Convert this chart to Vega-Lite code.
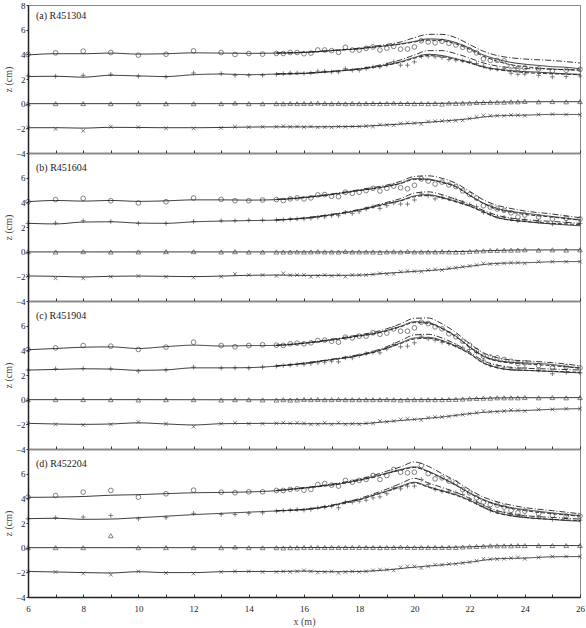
{
"$schema": "https://vega.github.io/schema/vega-lite/v6.json",
"padding": {"left": 2, "top": 0, "right": 0, "bottom": 0},
"spacing": 0,
"bounds": "flush",
"config": {
 "font": "Liberation Serif",
 "view": {"stroke": "#888", "strokeWidth": 1},
 "title": {"font": "Liberation Serif", "fontSize": 10, "fontWeight": "normal", "color": "#222", "anchor": "start", "frame": "group", "offset": -20, "dx": 8},
 "axis": {"grid": false, "labelFont": "Liberation Serif", "labelFontSize": 9, "labelColor": "#222", "titleFont": "Liberation Serif", "titleFontSize": 10, "titleFontWeight": "normal", "titleColor": "#444", "domainColor": "#222", "tickColor": "#333", "domainWidth": 1.5, "tickWidth": 1, "labelOverlap": false, "labelFlush": false}
},
"datasets": {
"pts": [
{"p":"a","m":"o","x":6,"z":3.99},{"p":"a","m":"o","x":7,"z":4.12},{"p":"a","m":"o","x":8,"z":4.26},{"p":"a","m":"o","x":9,"z":4.15},{"p":"a","m":"o","x":10,"z":3.93},{"p":"a","m":"o","x":11,"z":4.01},{"p":"a","m":"o","x":12,"z":4.28},{"p":"a","m":"o","x":13,"z":4.15},{"p":"a","m":"o","x":13.5,"z":3.99},{"p":"a","m":"o","x":14,"z":4.07},{"p":"a","m":"o","x":14.5,"z":4.02},{"p":"a","m":"o","x":15,"z":4.07},{"p":"a","m":"o","x":15.25,"z":4.07},{"p":"a","m":"o","x":15.5,"z":4.15},{"p":"a","m":"o","x":15.75,"z":4.15},{"p":"a","m":"o","x":16,"z":4.05},{"p":"a","m":"o","x":16.25,"z":4.1},{"p":"a","m":"o","x":16.5,"z":4.35},{"p":"a","m":"o","x":16.75,"z":4.35},{"p":"a","m":"o","x":17,"z":4.3},{"p":"a","m":"o","x":17.25,"z":4.16},{"p":"a","m":"o","x":17.5,"z":4.57},{"p":"a","m":"o","x":17.75,"z":4.35},{"p":"a","m":"o","x":18,"z":4.35},{"p":"a","m":"o","x":18.25,"z":4.49},{"p":"a","m":"o","x":18.5,"z":4.6},{"p":"a","m":"o","x":18.75,"z":4.35},{"p":"a","m":"o","x":19,"z":4.5},{"p":"a","m":"o","x":19.25,"z":4.64},{"p":"a","m":"o","x":19.5,"z":4.42},{"p":"a","m":"o","x":19.75,"z":4.43},{"p":"a","m":"o","x":20,"z":4.6},{"p":"a","m":"o","x":20.25,"z":5.1},{"p":"a","m":"o","x":20.5,"z":5.0},{"p":"a","m":"o","x":20.75,"z":4.93},{"p":"a","m":"o","x":21,"z":5.06},{"p":"a","m":"o","x":21.25,"z":4.89},{"p":"a","m":"o","x":21.5,"z":4.76},{"p":"a","m":"o","x":21.75,"z":4.57},{"p":"a","m":"o","x":22,"z":4.35},{"p":"a","m":"o","x":22.25,"z":4.12},{"p":"a","m":"o","x":22.5,"z":3.63},{"p":"a","m":"o","x":22.75,"z":3.51},{"p":"a","m":"o","x":23,"z":3.51},{"p":"a","m":"o","x":23.25,"z":3.47},{"p":"a","m":"o","x":23.5,"z":2.99},{"p":"a","m":"o","x":23.75,"z":2.86},{"p":"a","m":"o","x":24,"z":2.91},{"p":"a","m":"o","x":24.5,"z":2.82},{"p":"a","m":"o","x":25,"z":2.65},{"p":"a","m":"o","x":25.5,"z":2.71},{"p":"a","m":"o","x":26,"z":2.78},
{"p":"a","m":"p","x":6,"z":2.25},{"p":"a","m":"p","x":7,"z":2.22},{"p":"a","m":"p","x":8,"z":2.3},{"p":"a","m":"p","x":9,"z":2.38},{"p":"a","m":"p","x":10,"z":2.22},{"p":"a","m":"p","x":11,"z":2.17},{"p":"a","m":"p","x":12,"z":2.49},{"p":"a","m":"p","x":13,"z":2.44},{"p":"a","m":"p","x":13.5,"z":2.3},{"p":"a","m":"p","x":14,"z":2.3},{"p":"a","m":"p","x":14.5,"z":2.3},{"p":"a","m":"p","x":15,"z":2.38},{"p":"a","m":"p","x":15.25,"z":2.44},{"p":"a","m":"p","x":15.5,"z":2.49},{"p":"a","m":"p","x":15.75,"z":2.49},{"p":"a","m":"p","x":16,"z":2.44},{"p":"a","m":"p","x":16.25,"z":2.49},{"p":"a","m":"p","x":16.5,"z":2.63},{"p":"a","m":"p","x":16.75,"z":2.63},{"p":"a","m":"p","x":17,"z":2.57},{"p":"a","m":"p","x":17.25,"z":2.57},{"p":"a","m":"p","x":17.5,"z":2.84},{"p":"a","m":"p","x":17.75,"z":2.71},{"p":"a","m":"p","x":18,"z":2.71},{"p":"a","m":"p","x":18.25,"z":2.84},{"p":"a","m":"p","x":18.5,"z":2.98},{"p":"a","m":"p","x":18.75,"z":2.98},{"p":"a","m":"p","x":19,"z":3.15},{"p":"a","m":"p","x":19.25,"z":3.39},{"p":"a","m":"p","x":19.5,"z":3.12},{"p":"a","m":"p","x":19.75,"z":3.12},{"p":"a","m":"p","x":20,"z":3.39},{"p":"a","m":"p","x":20.25,"z":3.82},{"p":"a","m":"p","x":20.5,"z":3.85},{"p":"a","m":"p","x":20.75,"z":3.8},{"p":"a","m":"p","x":21,"z":3.74},{"p":"a","m":"p","x":21.25,"z":3.58},{"p":"a","m":"p","x":21.5,"z":3.53},{"p":"a","m":"p","x":21.75,"z":3.47},{"p":"a","m":"p","x":22,"z":3.39},{"p":"a","m":"p","x":22.25,"z":3.26},{"p":"a","m":"p","x":22.5,"z":3.04},{"p":"a","m":"p","x":22.75,"z":2.84},{"p":"a","m":"p","x":23,"z":2.79},{"p":"a","m":"p","x":23.25,"z":2.84},{"p":"a","m":"p","x":23.5,"z":2.47},{"p":"a","m":"p","x":23.75,"z":2.38},{"p":"a","m":"p","x":24,"z":2.4},{"p":"a","m":"p","x":24.5,"z":2.3},{"p":"a","m":"p","x":25,"z":2.17},{"p":"a","m":"p","x":25.5,"z":2.2},{"p":"a","m":"p","x":26,"z":2.25},
{"p":"a","m":"t","x":6,"z":0},{"p":"a","m":"t","x":7,"z":0},{"p":"a","m":"t","x":8,"z":0},{"p":"a","m":"t","x":9,"z":0},{"p":"a","m":"t","x":10,"z":0},{"p":"a","m":"t","x":11,"z":0},{"p":"a","m":"t","x":12,"z":0},{"p":"a","m":"t","x":13,"z":0},{"p":"a","m":"t","x":13.5,"z":0.05},{"p":"a","m":"t","x":14,"z":0},{"p":"a","m":"t","x":14.5,"z":0},{"p":"a","m":"t","x":15,"z":0},{"p":"a","m":"t","x":15.25,"z":0},{"p":"a","m":"t","x":15.5,"z":0.02},{"p":"a","m":"t","x":15.75,"z":0},{"p":"a","m":"t","x":16,"z":0.02},{"p":"a","m":"t","x":16.25,"z":0.02},{"p":"a","m":"t","x":16.5,"z":0.05},{"p":"a","m":"t","x":16.75,"z":0.02},{"p":"a","m":"t","x":17,"z":0},{"p":"a","m":"t","x":17.25,"z":0.02},{"p":"a","m":"t","x":17.5,"z":0},{"p":"a","m":"t","x":17.75,"z":0.02},{"p":"a","m":"t","x":18,"z":0},{"p":"a","m":"t","x":18.25,"z":0.02},{"p":"a","m":"t","x":18.5,"z":0.02},{"p":"a","m":"t","x":18.75,"z":0},{"p":"a","m":"t","x":19,"z":0.02},{"p":"a","m":"t","x":19.25,"z":0.05},{"p":"a","m":"t","x":19.5,"z":0.02},{"p":"a","m":"t","x":19.75,"z":0.02},{"p":"a","m":"t","x":20,"z":0},{"p":"a","m":"t","x":20.25,"z":0.02},{"p":"a","m":"t","x":20.5,"z":0},{"p":"a","m":"t","x":20.75,"z":0.02},{"p":"a","m":"t","x":21,"z":-0.03},{"p":"a","m":"t","x":21.25,"z":0.05},{"p":"a","m":"t","x":21.5,"z":0.02},{"p":"a","m":"t","x":21.75,"z":0.05},{"p":"a","m":"t","x":22,"z":0.05},{"p":"a","m":"t","x":22.25,"z":0.1},{"p":"a","m":"t","x":22.5,"z":0.1},{"p":"a","m":"t","x":22.75,"z":0.12},{"p":"a","m":"t","x":23,"z":0.12},{"p":"a","m":"t","x":23.25,"z":0.12},{"p":"a","m":"t","x":23.5,"z":0.15},{"p":"a","m":"t","x":23.75,"z":0.15},{"p":"a","m":"t","x":24,"z":0.18},{"p":"a","m":"t","x":24.5,"z":0.15},{"p":"a","m":"t","x":25,"z":0.17},{"p":"a","m":"t","x":25.5,"z":0.15},{"p":"a","m":"t","x":26,"z":0.17},
{"p":"a","m":"x","x":6,"z":-1.95},{"p":"a","m":"x","x":7,"z":-2.05},{"p":"a","m":"x","x":8,"z":-2.2},{"p":"a","m":"x","x":9,"z":-1.87},{"p":"a","m":"x","x":10,"z":-1.9},{"p":"a","m":"x","x":11,"z":-2.0},{"p":"a","m":"x","x":12,"z":-2.0},{"p":"a","m":"x","x":13,"z":-1.97},{"p":"a","m":"x","x":13.5,"z":-1.87},{"p":"a","m":"x","x":14,"z":-1.9},{"p":"a","m":"x","x":14.5,"z":-1.87},{"p":"a","m":"x","x":15,"z":-1.87},{"p":"a","m":"x","x":15.25,"z":-1.82},{"p":"a","m":"x","x":15.5,"z":-1.87},{"p":"a","m":"x","x":15.75,"z":-1.85},{"p":"a","m":"x","x":16,"z":-1.9},{"p":"a","m":"x","x":16.25,"z":-1.85},{"p":"a","m":"x","x":16.5,"z":-1.92},{"p":"a","m":"x","x":16.75,"z":-1.9},{"p":"a","m":"x","x":17,"z":-1.92},{"p":"a","m":"x","x":17.25,"z":-1.85},{"p":"a","m":"x","x":17.5,"z":-1.88},{"p":"a","m":"x","x":17.75,"z":-1.85},{"p":"a","m":"x","x":18,"z":-1.85},{"p":"a","m":"x","x":18.25,"z":-1.82},{"p":"a","m":"x","x":18.5,"z":-1.85},{"p":"a","m":"x","x":18.75,"z":-1.7},{"p":"a","m":"x","x":19,"z":-1.72},{"p":"a","m":"x","x":19.25,"z":-1.75},{"p":"a","m":"x","x":19.5,"z":-1.6},{"p":"a","m":"x","x":19.75,"z":-1.55},{"p":"a","m":"x","x":20,"z":-1.58},{"p":"a","m":"x","x":20.25,"z":-1.65},{"p":"a","m":"x","x":20.5,"z":-1.45},{"p":"a","m":"x","x":20.75,"z":-1.42},{"p":"a","m":"x","x":21,"z":-1.4},{"p":"a","m":"x","x":21.25,"z":-1.4},{"p":"a","m":"x","x":21.5,"z":-1.38},{"p":"a","m":"x","x":21.75,"z":-1.35},{"p":"a","m":"x","x":22,"z":-1.2},{"p":"a","m":"x","x":22.25,"z":-1.08},{"p":"a","m":"x","x":22.5,"z":-0.95},{"p":"a","m":"x","x":22.75,"z":-0.98},{"p":"a","m":"x","x":23,"z":-0.97},{"p":"a","m":"x","x":23.25,"z":-0.98},{"p":"a","m":"x","x":23.5,"z":-0.92},{"p":"a","m":"x","x":23.75,"z":-0.93},{"p":"a","m":"x","x":24,"z":-0.98},{"p":"a","m":"x","x":24.5,"z":-0.88},{"p":"a","m":"x","x":25,"z":-0.85},{"p":"a","m":"x","x":25.5,"z":-0.88},{"p":"a","m":"x","x":26,"z":-0.9},
{"p":"b","m":"o","x":6,"z":4.05},{"p":"b","m":"o","x":7,"z":4.22},{"p":"b","m":"o","x":8,"z":4.32},{"p":"b","m":"o","x":9,"z":4.13},{"p":"b","m":"o","x":10,"z":3.95},{"p":"b","m":"o","x":11,"z":4.05},{"p":"b","m":"o","x":12,"z":4.35},{"p":"b","m":"o","x":13,"z":4.24},{"p":"b","m":"o","x":13.5,"z":4.13},{"p":"b","m":"o","x":14,"z":4.13},{"p":"b","m":"o","x":14.5,"z":4.19},{"p":"b","m":"o","x":15,"z":4.22},{"p":"b","m":"o","x":15.25,"z":4.14},{"p":"b","m":"o","x":15.5,"z":4.28},{"p":"b","m":"o","x":15.75,"z":4.36},{"p":"b","m":"o","x":16,"z":4.28},{"p":"b","m":"o","x":16.25,"z":4.36},{"p":"b","m":"o","x":16.5,"z":4.6},{"p":"b","m":"o","x":16.75,"z":4.63},{"p":"b","m":"o","x":17,"z":4.49},{"p":"b","m":"o","x":17.25,"z":4.46},{"p":"b","m":"o","x":17.5,"z":4.82},{"p":"b","m":"o","x":17.75,"z":4.73},{"p":"b","m":"o","x":18,"z":4.82},{"p":"b","m":"o","x":18.25,"z":4.95},{"p":"b","m":"o","x":18.5,"z":5.14},{"p":"b","m":"o","x":18.75,"z":4.92},{"p":"b","m":"o","x":19,"z":5.14},{"p":"b","m":"o","x":19.25,"z":5.32},{"p":"b","m":"o","x":19.5,"z":5.18},{"p":"b","m":"o","x":19.75,"z":5.1},{"p":"b","m":"o","x":20,"z":5.38},{"p":"b","m":"o","x":20.25,"z":5.9},{"p":"b","m":"o","x":20.5,"z":5.72},{"p":"b","m":"o","x":20.75,"z":5.48},{"p":"b","m":"o","x":21,"z":5.64},{"p":"b","m":"o","x":21.25,"z":5.41},{"p":"b","m":"o","x":21.5,"z":5.28},{"p":"b","m":"o","x":21.75,"z":4.93},{"p":"b","m":"o","x":22,"z":4.64},{"p":"b","m":"o","x":22.25,"z":4.35},{"p":"b","m":"o","x":22.5,"z":3.72},{"p":"b","m":"o","x":22.75,"z":3.62},{"p":"b","m":"o","x":23,"z":3.46},{"p":"b","m":"o","x":23.25,"z":3.35},{"p":"b","m":"o","x":23.5,"z":3.15},{"p":"b","m":"o","x":23.75,"z":2.81},{"p":"b","m":"o","x":24,"z":2.97},{"p":"b","m":"o","x":24.5,"z":2.81},{"p":"b","m":"o","x":25,"z":2.65},{"p":"b","m":"o","x":25.5,"z":2.7},{"p":"b","m":"o","x":26,"z":2.65},
{"p":"b","m":"p","x":6,"z":2.29},{"p":"b","m":"p","x":7,"z":2.32},{"p":"b","m":"p","x":8,"z":2.51},{"p":"b","m":"p","x":9,"z":2.45},{"p":"b","m":"p","x":10,"z":2.29},{"p":"b","m":"p","x":11,"z":2.29},{"p":"b","m":"p","x":12,"z":2.45},{"p":"b","m":"p","x":13,"z":2.51},{"p":"b","m":"p","x":13.5,"z":2.51},{"p":"b","m":"p","x":14,"z":2.56},{"p":"b","m":"p","x":14.5,"z":2.56},{"p":"b","m":"p","x":15,"z":2.58},{"p":"b","m":"p","x":15.25,"z":2.6},{"p":"b","m":"p","x":15.5,"z":2.63},{"p":"b","m":"p","x":15.75,"z":2.66},{"p":"b","m":"p","x":16,"z":2.66},{"p":"b","m":"p","x":16.25,"z":2.7},{"p":"b","m":"p","x":16.5,"z":2.78},{"p":"b","m":"p","x":16.75,"z":2.83},{"p":"b","m":"p","x":17,"z":2.92},{"p":"b","m":"p","x":17.25,"z":2.92},{"p":"b","m":"p","x":17.5,"z":3.19},{"p":"b","m":"p","x":17.75,"z":3.1},{"p":"b","m":"p","x":18,"z":3.24},{"p":"b","m":"p","x":18.25,"z":3.46},{"p":"b","m":"p","x":18.5,"z":3.65},{"p":"b","m":"p","x":18.75,"z":3.51},{"p":"b","m":"p","x":19,"z":3.73},{"p":"b","m":"p","x":19.25,"z":3.95},{"p":"b","m":"p","x":19.5,"z":3.86},{"p":"b","m":"p","x":19.75,"z":3.86},{"p":"b","m":"p","x":20,"z":4.19},{"p":"b","m":"p","x":20.25,"z":4.68},{"p":"b","m":"p","x":20.5,"z":4.54},{"p":"b","m":"p","x":20.75,"z":4.28},{"p":"b","m":"p","x":21,"z":4.41},{"p":"b","m":"p","x":21.25,"z":4.28},{"p":"b","m":"p","x":21.5,"z":4.19},{"p":"b","m":"p","x":21.75,"z":4.0},{"p":"b","m":"p","x":22,"z":3.81},{"p":"b","m":"p","x":22.25,"z":3.65},{"p":"b","m":"p","x":22.5,"z":3.19},{"p":"b","m":"p","x":22.75,"z":3.05},{"p":"b","m":"p","x":23,"z":2.83},{"p":"b","m":"p","x":23.25,"z":2.78},{"p":"b","m":"p","x":23.5,"z":2.64},{"p":"b","m":"p","x":23.75,"z":2.51},{"p":"b","m":"p","x":24,"z":2.56},{"p":"b","m":"p","x":24.5,"z":2.45},{"p":"b","m":"p","x":25,"z":2.24},{"p":"b","m":"p","x":25.5,"z":2.37},{"p":"b","m":"p","x":26,"z":2.29},
{"p":"b","m":"t","x":6,"z":0},{"p":"b","m":"t","x":7,"z":-0.03},{"p":"b","m":"t","x":8,"z":0},{"p":"b","m":"t","x":9,"z":-0.03},{"p":"b","m":"t","x":10,"z":-0.02},{"p":"b","m":"t","x":11,"z":0},{"p":"b","m":"t","x":12,"z":0},{"p":"b","m":"t","x":13,"z":-0.02},{"p":"b","m":"t","x":13.5,"z":0},{"p":"b","m":"t","x":14,"z":-0.03},{"p":"b","m":"t","x":14.5,"z":-0.03},{"p":"b","m":"t","x":15,"z":-0.03},{"p":"b","m":"t","x":15.25,"z":-0.03},{"p":"b","m":"t","x":15.5,"z":-0.03},{"p":"b","m":"t","x":15.75,"z":-0.02},{"p":"b","m":"t","x":16,"z":-0.03},{"p":"b","m":"t","x":16.25,"z":-0.02},{"p":"b","m":"t","x":16.5,"z":0},{"p":"b","m":"t","x":16.75,"z":-0.02},{"p":"b","m":"t","x":17,"z":-0.02},{"p":"b","m":"t","x":17.25,"z":-0.03},{"p":"b","m":"t","x":17.5,"z":0.02},{"p":"b","m":"t","x":17.75,"z":-0.02},{"p":"b","m":"t","x":18,"z":-0.02},{"p":"b","m":"t","x":18.25,"z":-0.02},{"p":"b","m":"t","x":18.5,"z":-0.03},{"p":"b","m":"t","x":18.75,"z":-0.05},{"p":"b","m":"t","x":19,"z":-0.02},{"p":"b","m":"t","x":19.25,"z":0},{"p":"b","m":"t","x":19.5,"z":-0.02},{"p":"b","m":"t","x":19.75,"z":0.02},{"p":"b","m":"t","x":20,"z":-0.02},{"p":"b","m":"t","x":20.25,"z":-0.02},{"p":"b","m":"t","x":20.5,"z":-0.02},{"p":"b","m":"t","x":20.75,"z":-0.02},{"p":"b","m":"t","x":21,"z":0},{"p":"b","m":"t","x":21.25,"z":-0.02},{"p":"b","m":"t","x":21.5,"z":-0.03},{"p":"b","m":"t","x":21.75,"z":-0.03},{"p":"b","m":"t","x":22,"z":0.02},{"p":"b","m":"t","x":22.25,"z":0.05},{"p":"b","m":"t","x":22.5,"z":0.07},{"p":"b","m":"t","x":22.75,"z":0.1},{"p":"b","m":"t","x":23,"z":0.1},{"p":"b","m":"t","x":23.25,"z":0.12},{"p":"b","m":"t","x":23.5,"z":0.12},{"p":"b","m":"t","x":23.75,"z":0.13},{"p":"b","m":"t","x":24,"z":0.15},{"p":"b","m":"t","x":24.5,"z":0.13},{"p":"b","m":"t","x":25,"z":0.15},{"p":"b","m":"t","x":25.5,"z":0.13},{"p":"b","m":"t","x":26,"z":0.15},
{"p":"b","m":"x","x":6,"z":-1.97},{"p":"b","m":"x","x":7,"z":-2.16},{"p":"b","m":"x","x":8,"z":-2.16},{"p":"b","m":"x","x":9,"z":-2.03},{"p":"b","m":"x","x":10,"z":-1.97},{"p":"b","m":"x","x":11,"z":-2.03},{"p":"b","m":"x","x":12,"z":-2.1},{"p":"b","m":"x","x":13,"z":-2.03},{"p":"b","m":"x","x":13.5,"z":-1.81},{"p":"b","m":"x","x":14,"z":-1.89},{"p":"b","m":"x","x":14.5,"z":-1.89},{"p":"b","m":"x","x":15,"z":-1.97},{"p":"b","m":"x","x":15.25,"z":-1.76},{"p":"b","m":"x","x":15.5,"z":-1.92},{"p":"b","m":"x","x":15.75,"z":-1.89},{"p":"b","m":"x","x":16,"z":-1.89},{"p":"b","m":"x","x":16.25,"z":-2.03},{"p":"b","m":"x","x":16.5,"z":-1.97},{"p":"b","m":"x","x":16.75,"z":-1.89},{"p":"b","m":"x","x":17,"z":-1.97},{"p":"b","m":"x","x":17.25,"z":-1.89},{"p":"b","m":"x","x":17.5,"z":-2.03},{"p":"b","m":"x","x":17.75,"z":-1.89},{"p":"b","m":"x","x":18,"z":-1.89},{"p":"b","m":"x","x":18.25,"z":-1.89},{"p":"b","m":"x","x":18.5,"z":-1.84},{"p":"b","m":"x","x":18.75,"z":-1.76},{"p":"b","m":"x","x":19,"z":-1.81},{"p":"b","m":"x","x":19.25,"z":-1.81},{"p":"b","m":"x","x":19.5,"z":-1.62},{"p":"b","m":"x","x":19.75,"z":-1.57},{"p":"b","m":"x","x":20,"z":-1.59},{"p":"b","m":"x","x":20.25,"z":-1.62},{"p":"b","m":"x","x":20.5,"z":-1.49},{"p":"b","m":"x","x":20.75,"z":-1.43},{"p":"b","m":"x","x":21,"z":-1.49},{"p":"b","m":"x","x":21.25,"z":-1.35},{"p":"b","m":"x","x":21.5,"z":-1.3},{"p":"b","m":"x","x":21.75,"z":-1.22},{"p":"b","m":"x","x":22,"z":-1.16},{"p":"b","m":"x","x":22.25,"z":-1.08},{"p":"b","m":"x","x":22.5,"z":-0.95},{"p":"b","m":"x","x":22.75,"z":-1.0},{"p":"b","m":"x","x":23,"z":-1.0},{"p":"b","m":"x","x":23.25,"z":-0.95},{"p":"b","m":"x","x":23.5,"z":-0.89},{"p":"b","m":"x","x":23.75,"z":-0.89},{"p":"b","m":"x","x":24,"z":-0.95},{"p":"b","m":"x","x":24.5,"z":-0.81},{"p":"b","m":"x","x":25,"z":-0.81},{"p":"b","m":"x","x":25.5,"z":-0.81},{"p":"b","m":"x","x":26,"z":-0.81},
{"p":"c","m":"o","x":6,"z":4.07},{"p":"c","m":"o","x":7,"z":4.2},{"p":"c","m":"o","x":8,"z":4.39},{"p":"c","m":"o","x":9,"z":4.34},{"p":"c","m":"o","x":10,"z":4.07},{"p":"c","m":"o","x":11,"z":4.26},{"p":"c","m":"o","x":12,"z":4.66},{"p":"c","m":"o","x":13,"z":4.39},{"p":"c","m":"o","x":13.5,"z":4.29},{"p":"c","m":"o","x":14,"z":4.39},{"p":"c","m":"o","x":14.5,"z":4.45},{"p":"c","m":"o","x":15,"z":4.42},{"p":"c","m":"o","x":15.25,"z":4.4},{"p":"c","m":"o","x":15.5,"z":4.53},{"p":"c","m":"o","x":15.75,"z":4.58},{"p":"c","m":"o","x":16,"z":4.53},{"p":"c","m":"o","x":16.25,"z":4.61},{"p":"c","m":"o","x":16.5,"z":4.8},{"p":"c","m":"o","x":16.75,"z":4.83},{"p":"c","m":"o","x":17,"z":4.74},{"p":"c","m":"o","x":17.25,"z":4.66},{"p":"c","m":"o","x":17.5,"z":5.07},{"p":"c","m":"o","x":17.75,"z":5.01},{"p":"c","m":"o","x":18,"z":5.15},{"p":"c","m":"o","x":18.25,"z":5.15},{"p":"c","m":"o","x":18.5,"z":5.42},{"p":"c","m":"o","x":18.75,"z":5.3},{"p":"c","m":"o","x":19,"z":5.4},{"p":"c","m":"o","x":19.25,"z":5.74},{"p":"c","m":"o","x":19.5,"z":5.55},{"p":"c","m":"o","x":19.75,"z":5.55},{"p":"c","m":"o","x":20,"z":5.82},{"p":"c","m":"o","x":20.25,"z":6.28},{"p":"c","m":"o","x":20.5,"z":6.17},{"p":"c","m":"o","x":20.75,"z":5.9},{"p":"c","m":"o","x":21,"z":5.74},{"p":"c","m":"o","x":21.25,"z":5.34},{"p":"c","m":"o","x":21.5,"z":5.1},{"p":"c","m":"o","x":21.75,"z":4.74},{"p":"c","m":"o","x":22,"z":4.42},{"p":"c","m":"o","x":22.25,"z":3.99},{"p":"c","m":"o","x":22.5,"z":3.53},{"p":"c","m":"o","x":22.75,"z":3.45},{"p":"c","m":"o","x":23,"z":3.39},{"p":"c","m":"o","x":23.25,"z":3.26},{"p":"c","m":"o","x":23.5,"z":3.12},{"p":"c","m":"o","x":23.75,"z":2.93},{"p":"c","m":"o","x":24,"z":2.99},{"p":"c","m":"o","x":24.5,"z":2.77},{"p":"c","m":"o","x":25,"z":2.58},{"p":"c","m":"o","x":25.5,"z":2.66},{"p":"c","m":"o","x":26,"z":2.58},
{"p":"c","m":"p","x":6,"z":2.4},{"p":"c","m":"p","x":7,"z":2.5},{"p":"c","m":"p","x":8,"z":2.53},{"p":"c","m":"p","x":9,"z":2.5},{"p":"c","m":"p","x":10,"z":2.31},{"p":"c","m":"p","x":11,"z":2.4},{"p":"c","m":"p","x":12,"z":2.64},{"p":"c","m":"p","x":13,"z":2.56},{"p":"c","m":"p","x":13.5,"z":2.58},{"p":"c","m":"p","x":14,"z":2.56},{"p":"c","m":"p","x":14.5,"z":2.64},{"p":"c","m":"p","x":15,"z":2.72},{"p":"c","m":"p","x":15.25,"z":2.77},{"p":"c","m":"p","x":15.5,"z":2.8},{"p":"c","m":"p","x":15.75,"z":2.85},{"p":"c","m":"p","x":16,"z":2.85},{"p":"c","m":"p","x":16.25,"z":2.93},{"p":"c","m":"p","x":16.5,"z":2.99},{"p":"c","m":"p","x":16.75,"z":3.04},{"p":"c","m":"p","x":17,"z":3.12},{"p":"c","m":"p","x":17.25,"z":3.07},{"p":"c","m":"p","x":17.5,"z":3.39},{"p":"c","m":"p","x":17.75,"z":3.39},{"p":"c","m":"p","x":18,"z":3.58},{"p":"c","m":"p","x":18.25,"z":3.74},{"p":"c","m":"p","x":18.5,"z":3.85},{"p":"c","m":"p","x":18.75,"z":3.8},{"p":"c","m":"p","x":19,"z":4.12},{"p":"c","m":"p","x":19.25,"z":4.47},{"p":"c","m":"p","x":19.5,"z":4.29},{"p":"c","m":"p","x":19.75,"z":4.34},{"p":"c","m":"p","x":20,"z":4.61},{"p":"c","m":"p","x":20.25,"z":5.15},{"p":"c","m":"p","x":20.5,"z":4.93},{"p":"c","m":"p","x":20.75,"z":4.83},{"p":"c","m":"p","x":21,"z":4.66},{"p":"c","m":"p","x":21.25,"z":4.55},{"p":"c","m":"p","x":21.5,"z":4.39},{"p":"c","m":"p","x":21.75,"z":4.2},{"p":"c","m":"p","x":22,"z":4.07},{"p":"c","m":"p","x":22.25,"z":3.85},{"p":"c","m":"p","x":22.5,"z":3.2},{"p":"c","m":"p","x":22.75,"z":2.8},{"p":"c","m":"p","x":23,"z":2.72},{"p":"c","m":"p","x":23.25,"z":2.58},{"p":"c","m":"p","x":23.5,"z":2.5},{"p":"c","m":"p","x":23.75,"z":2.5},{"p":"c","m":"p","x":24,"z":2.58},{"p":"c","m":"p","x":24.5,"z":2.4},{"p":"c","m":"p","x":25,"z":2.1},{"p":"c","m":"p","x":25.5,"z":2.23},{"p":"c","m":"p","x":26,"z":2.18},
{"p":"c","m":"t","x":6,"z":0},{"p":"c","m":"t","x":7,"z":0},{"p":"c","m":"t","x":8,"z":0},{"p":"c","m":"t","x":9,"z":0},{"p":"c","m":"t","x":10,"z":-0.02},{"p":"c","m":"t","x":11,"z":0},{"p":"c","m":"t","x":12,"z":0},{"p":"c","m":"t","x":13,"z":-0.03},{"p":"c","m":"t","x":13.5,"z":0},{"p":"c","m":"t","x":14,"z":0},{"p":"c","m":"t","x":14.5,"z":-0.02},{"p":"c","m":"t","x":15,"z":-0.03},{"p":"c","m":"t","x":15.25,"z":0},{"p":"c","m":"t","x":15.5,"z":-0.03},{"p":"c","m":"t","x":15.75,"z":-0.02},{"p":"c","m":"t","x":16,"z":0.02},{"p":"c","m":"t","x":16.25,"z":0},{"p":"c","m":"t","x":16.5,"z":0.02},{"p":"c","m":"t","x":16.75,"z":0},{"p":"c","m":"t","x":17,"z":0},{"p":"c","m":"t","x":17.25,"z":0.02},{"p":"c","m":"t","x":17.5,"z":0},{"p":"c","m":"t","x":17.75,"z":0},{"p":"c","m":"t","x":18,"z":0},{"p":"c","m":"t","x":18.25,"z":0},{"p":"c","m":"t","x":18.5,"z":0},{"p":"c","m":"t","x":18.75,"z":0},{"p":"c","m":"t","x":19,"z":0.02},{"p":"c","m":"t","x":19.25,"z":0},{"p":"c","m":"t","x":19.5,"z":-0.03},{"p":"c","m":"t","x":19.75,"z":0},{"p":"c","m":"t","x":20,"z":0},{"p":"c","m":"t","x":20.25,"z":0},{"p":"c","m":"t","x":20.5,"z":0},{"p":"c","m":"t","x":20.75,"z":0},{"p":"c","m":"t","x":21,"z":0},{"p":"c","m":"t","x":21.25,"z":0.02},{"p":"c","m":"t","x":21.5,"z":0.02},{"p":"c","m":"t","x":21.75,"z":0.05},{"p":"c","m":"t","x":22,"z":0.08},{"p":"c","m":"t","x":22.25,"z":0.1},{"p":"c","m":"t","x":22.5,"z":0.12},{"p":"c","m":"t","x":22.75,"z":0.12},{"p":"c","m":"t","x":23,"z":0.15},{"p":"c","m":"t","x":23.25,"z":0.15},{"p":"c","m":"t","x":23.5,"z":0.15},{"p":"c","m":"t","x":23.75,"z":0.15},{"p":"c","m":"t","x":24,"z":0.17},{"p":"c","m":"t","x":24.5,"z":0.15},{"p":"c","m":"t","x":25,"z":0.17},{"p":"c","m":"t","x":25.5,"z":0.15},{"p":"c","m":"t","x":26,"z":0.17},
{"p":"c","m":"x","x":6,"z":-1.92},{"p":"c","m":"x","x":7,"z":-2.0},{"p":"c","m":"x","x":8,"z":-2.06},{"p":"c","m":"x","x":9,"z":-2.0},{"p":"c","m":"x","x":10,"z":-1.81},{"p":"c","m":"x","x":11,"z":-1.95},{"p":"c","m":"x","x":12,"z":-2.19},{"p":"c","m":"x","x":13,"z":-1.95},{"p":"c","m":"x","x":13.5,"z":-1.87},{"p":"c","m":"x","x":14,"z":-1.95},{"p":"c","m":"x","x":14.5,"z":-1.95},{"p":"c","m":"x","x":15,"z":-1.92},{"p":"c","m":"x","x":15.25,"z":-1.87},{"p":"c","m":"x","x":15.5,"z":-1.92},{"p":"c","m":"x","x":15.75,"z":-1.87},{"p":"c","m":"x","x":16,"z":-1.92},{"p":"c","m":"x","x":16.25,"z":-2.0},{"p":"c","m":"x","x":16.5,"z":-2.0},{"p":"c","m":"x","x":16.75,"z":-1.87},{"p":"c","m":"x","x":17,"z":-2.0},{"p":"c","m":"x","x":17.25,"z":-1.87},{"p":"c","m":"x","x":17.5,"z":-2.0},{"p":"c","m":"x","x":17.75,"z":-1.95},{"p":"c","m":"x","x":18,"z":-2.0},{"p":"c","m":"x","x":18.25,"z":-1.92},{"p":"c","m":"x","x":18.5,"z":-1.92},{"p":"c","m":"x","x":18.75,"z":-1.73},{"p":"c","m":"x","x":19,"z":-1.79},{"p":"c","m":"x","x":19.25,"z":-1.73},{"p":"c","m":"x","x":19.5,"z":-1.6},{"p":"c","m":"x","x":19.75,"z":-1.55},{"p":"c","m":"x","x":20,"z":-1.6},{"p":"c","m":"x","x":20.25,"z":-1.65},{"p":"c","m":"x","x":20.5,"z":-1.46},{"p":"c","m":"x","x":20.75,"z":-1.41},{"p":"c","m":"x","x":21,"z":-1.41},{"p":"c","m":"x","x":21.25,"z":-1.36},{"p":"c","m":"x","x":21.5,"z":-1.28},{"p":"c","m":"x","x":21.75,"z":-1.22},{"p":"c","m":"x","x":22,"z":-1.14},{"p":"c","m":"x","x":22.25,"z":-1.06},{"p":"c","m":"x","x":22.5,"z":-0.92},{"p":"c","m":"x","x":22.75,"z":-0.98},{"p":"c","m":"x","x":23,"z":-0.98},{"p":"c","m":"x","x":23.25,"z":-0.92},{"p":"c","m":"x","x":23.5,"z":-0.84},{"p":"c","m":"x","x":23.75,"z":-0.87},{"p":"c","m":"x","x":24,"z":-0.92},{"p":"c","m":"x","x":24.5,"z":-0.79},{"p":"c","m":"x","x":25,"z":-0.79},{"p":"c","m":"x","x":25.5,"z":-0.73},{"p":"c","m":"x","x":26,"z":-0.73},
{"p":"d","m":"o","x":6,"z":4.09},{"p":"d","m":"o","x":7,"z":4.23},{"p":"d","m":"o","x":8,"z":4.5},{"p":"d","m":"o","x":9,"z":4.64},{"p":"d","m":"o","x":10,"z":4.09},{"p":"d","m":"o","x":11,"z":4.37},{"p":"d","m":"o","x":12,"z":4.66},{"p":"d","m":"o","x":13,"z":4.5},{"p":"d","m":"o","x":13.5,"z":4.45},{"p":"d","m":"o","x":14,"z":4.53},{"p":"d","m":"o","x":14.5,"z":4.53},{"p":"d","m":"o","x":15,"z":4.64},{"p":"d","m":"o","x":15.25,"z":4.64},{"p":"d","m":"o","x":15.5,"z":4.72},{"p":"d","m":"o","x":15.75,"z":4.77},{"p":"d","m":"o","x":16,"z":4.66},{"p":"d","m":"o","x":16.25,"z":4.72},{"p":"d","m":"o","x":16.5,"z":5.12},{"p":"d","m":"o","x":16.75,"z":5.2},{"p":"d","m":"o","x":17,"z":5.07},{"p":"d","m":"o","x":17.25,"z":4.99},{"p":"d","m":"o","x":17.5,"z":5.45},{"p":"d","m":"o","x":17.75,"z":5.31},{"p":"d","m":"o","x":18,"z":5.45},{"p":"d","m":"o","x":18.25,"z":5.53},{"p":"d","m":"o","x":18.5,"z":5.85},{"p":"d","m":"o","x":18.75,"z":5.53},{"p":"d","m":"o","x":19,"z":5.85},{"p":"d","m":"o","x":19.25,"z":6.34},{"p":"d","m":"o","x":19.5,"z":6.12},{"p":"d","m":"o","x":19.75,"z":6.07},{"p":"d","m":"o","x":20,"z":6.12},{"p":"d","m":"o","x":20.25,"z":6.66},{"p":"d","m":"o","x":20.5,"z":6.01},{"p":"d","m":"o","x":20.75,"z":5.58},{"p":"d","m":"o","x":21,"z":5.66},{"p":"d","m":"o","x":21.25,"z":5.4},{"p":"d","m":"o","x":21.5,"z":5.26},{"p":"d","m":"o","x":21.75,"z":4.72},{"p":"d","m":"o","x":22,"z":4.45},{"p":"d","m":"o","x":22.25,"z":4.04},{"p":"d","m":"o","x":22.5,"z":3.69},{"p":"d","m":"o","x":22.75,"z":3.5},{"p":"d","m":"o","x":23,"z":3.45},{"p":"d","m":"o","x":23.25,"z":3.29},{"p":"d","m":"o","x":23.5,"z":3.02},{"p":"d","m":"o","x":23.75,"z":2.83},{"p":"d","m":"o","x":24,"z":2.97},{"p":"d","m":"o","x":24.5,"z":2.75},{"p":"d","m":"o","x":25,"z":2.61},{"p":"d","m":"o","x":25.5,"z":2.56},{"p":"d","m":"o","x":26,"z":2.56},
{"p":"d","m":"p","x":6,"z":2.34},{"p":"d","m":"p","x":7,"z":2.43},{"p":"d","m":"p","x":8,"z":2.48},{"p":"d","m":"p","x":9,"z":2.61},{"p":"d","m":"p","x":10,"z":2.34},{"p":"d","m":"p","x":11,"z":2.43},{"p":"d","m":"p","x":12,"z":2.78},{"p":"d","m":"p","x":13,"z":2.69},{"p":"d","m":"p","x":13.5,"z":2.69},{"p":"d","m":"p","x":14,"z":2.78},{"p":"d","m":"p","x":14.5,"z":2.83},{"p":"d","m":"p","x":15,"z":2.97},{"p":"d","m":"p","x":15.25,"z":3.02},{"p":"d","m":"p","x":15.5,"z":3.04},{"p":"d","m":"p","x":15.75,"z":3.1},{"p":"d","m":"p","x":16,"z":3.04},{"p":"d","m":"p","x":16.25,"z":3.1},{"p":"d","m":"p","x":16.5,"z":3.23},{"p":"d","m":"p","x":16.75,"z":3.29},{"p":"d","m":"p","x":17,"z":3.37},{"p":"d","m":"p","x":17.25,"z":3.23},{"p":"d","m":"p","x":17.5,"z":3.69},{"p":"d","m":"p","x":17.75,"z":3.69},{"p":"d","m":"p","x":18,"z":3.77},{"p":"d","m":"p","x":18.25,"z":3.85},{"p":"d","m":"p","x":18.5,"z":4.04},{"p":"d","m":"p","x":18.75,"z":4.12},{"p":"d","m":"p","x":19,"z":4.37},{"p":"d","m":"p","x":19.25,"z":4.85},{"p":"d","m":"p","x":19.5,"z":4.77},{"p":"d","m":"p","x":19.75,"z":4.99},{"p":"d","m":"p","x":20,"z":4.99},{"p":"d","m":"p","x":20.25,"z":5.53},{"p":"d","m":"p","x":20.5,"z":5.12},{"p":"d","m":"p","x":20.75,"z":4.72},{"p":"d","m":"p","x":21,"z":4.58},{"p":"d","m":"p","x":21.25,"z":4.58},{"p":"d","m":"p","x":21.5,"z":4.45},{"p":"d","m":"p","x":21.75,"z":4.31},{"p":"d","m":"p","x":22,"z":3.91},{"p":"d","m":"p","x":22.25,"z":3.69},{"p":"d","m":"p","x":22.5,"z":3.37},{"p":"d","m":"p","x":22.75,"z":3.04},{"p":"d","m":"p","x":23,"z":2.91},{"p":"d","m":"p","x":23.25,"z":2.88},{"p":"d","m":"p","x":23.5,"z":2.69},{"p":"d","m":"p","x":23.75,"z":2.61},{"p":"d","m":"p","x":24,"z":2.56},{"p":"d","m":"p","x":24.5,"z":2.48},{"p":"d","m":"p","x":25,"z":2.29},{"p":"d","m":"p","x":25.5,"z":2.37},{"p":"d","m":"p","x":26,"z":2.23},
{"p":"d","m":"t","x":6,"z":0},{"p":"d","m":"t","x":7,"z":0},{"p":"d","m":"t","x":8,"z":0},{"p":"d","m":"t","x":9,"z":0.97},{"p":"d","m":"t","x":10,"z":0},{"p":"d","m":"t","x":11,"z":0},{"p":"d","m":"t","x":12,"z":0},{"p":"d","m":"t","x":13,"z":0},{"p":"d","m":"t","x":13.5,"z":0.05},{"p":"d","m":"t","x":14,"z":0},{"p":"d","m":"t","x":14.5,"z":0},{"p":"d","m":"t","x":15,"z":0},{"p":"d","m":"t","x":15.25,"z":-0.02},{"p":"d","m":"t","x":15.5,"z":0},{"p":"d","m":"t","x":15.75,"z":0},{"p":"d","m":"t","x":16,"z":0.02},{"p":"d","m":"t","x":16.25,"z":0.02},{"p":"d","m":"t","x":16.5,"z":0.02},{"p":"d","m":"t","x":16.75,"z":0.02},{"p":"d","m":"t","x":17,"z":0.02},{"p":"d","m":"t","x":17.25,"z":0.02},{"p":"d","m":"t","x":17.5,"z":0.02},{"p":"d","m":"t","x":17.75,"z":0.02},{"p":"d","m":"t","x":18,"z":0.02},{"p":"d","m":"t","x":18.25,"z":0.02},{"p":"d","m":"t","x":18.5,"z":0.02},{"p":"d","m":"t","x":18.75,"z":0},{"p":"d","m":"t","x":19,"z":0.02},{"p":"d","m":"t","x":19.25,"z":0.02},{"p":"d","m":"t","x":19.5,"z":0.05},{"p":"d","m":"t","x":19.75,"z":0.02},{"p":"d","m":"t","x":20,"z":0.02},{"p":"d","m":"t","x":20.25,"z":0.02},{"p":"d","m":"t","x":20.5,"z":0.02},{"p":"d","m":"t","x":20.75,"z":0.02},{"p":"d","m":"t","x":21,"z":0.02},{"p":"d","m":"t","x":21.25,"z":0.02},{"p":"d","m":"t","x":21.5,"z":0.02},{"p":"d","m":"t","x":21.75,"z":0.05},{"p":"d","m":"t","x":22,"z":0.08},{"p":"d","m":"t","x":22.25,"z":0.1},{"p":"d","m":"t","x":22.5,"z":0.12},{"p":"d","m":"t","x":22.75,"z":0.15},{"p":"d","m":"t","x":23,"z":0.15},{"p":"d","m":"t","x":23.25,"z":0.15},{"p":"d","m":"t","x":23.5,"z":0.15},{"p":"d","m":"t","x":23.75,"z":0.17},{"p":"d","m":"t","x":24,"z":0.17},{"p":"d","m":"t","x":24.5,"z":0.17},{"p":"d","m":"t","x":25,"z":0.17},{"p":"d","m":"t","x":25.5,"z":0.17},{"p":"d","m":"t","x":26,"z":0.17},
{"p":"d","m":"x","x":6,"z":-1.93},{"p":"d","m":"x","x":7,"z":-1.97},{"p":"d","m":"x","x":8,"z":-2.1},{"p":"d","m":"x","x":9,"z":-2.19},{"p":"d","m":"x","x":10,"z":-1.92},{"p":"d","m":"x","x":11,"z":-2.05},{"p":"d","m":"x","x":12,"z":-2.1},{"p":"d","m":"x","x":13,"z":-1.97},{"p":"d","m":"x","x":13.5,"z":-1.92},{"p":"d","m":"x","x":14,"z":-1.92},{"p":"d","m":"x","x":14.5,"z":-1.97},{"p":"d","m":"x","x":15,"z":-1.97},{"p":"d","m":"x","x":15.25,"z":-1.92},{"p":"d","m":"x","x":15.5,"z":-1.97},{"p":"d","m":"x","x":15.75,"z":-1.92},{"p":"d","m":"x","x":16,"z":-1.84},{"p":"d","m":"x","x":16.25,"z":-1.92},{"p":"d","m":"x","x":16.5,"z":-2.0},{"p":"d","m":"x","x":16.75,"z":-1.97},{"p":"d","m":"x","x":17,"z":-1.92},{"p":"d","m":"x","x":17.25,"z":-2.05},{"p":"d","m":"x","x":17.5,"z":-1.97},{"p":"d","m":"x","x":17.75,"z":-1.92},{"p":"d","m":"x","x":18,"z":-1.97},{"p":"d","m":"x","x":18.25,"z":-1.92},{"p":"d","m":"x","x":18.5,"z":-1.84},{"p":"d","m":"x","x":18.75,"z":-1.78},{"p":"d","m":"x","x":19,"z":-1.78},{"p":"d","m":"x","x":19.25,"z":-1.84},{"p":"d","m":"x","x":19.5,"z":-1.6},{"p":"d","m":"x","x":19.75,"z":-1.52},{"p":"d","m":"x","x":20,"z":-1.52},{"p":"d","m":"x","x":20.25,"z":-1.65},{"p":"d","m":"x","x":20.5,"z":-1.52},{"p":"d","m":"x","x":20.75,"z":-1.38},{"p":"d","m":"x","x":21,"z":-1.38},{"p":"d","m":"x","x":21.25,"z":-1.33},{"p":"d","m":"x","x":21.5,"z":-1.33},{"p":"d","m":"x","x":21.75,"z":-1.25},{"p":"d","m":"x","x":22,"z":-1.17},{"p":"d","m":"x","x":22.25,"z":-1.06},{"p":"d","m":"x","x":22.5,"z":-0.9},{"p":"d","m":"x","x":22.75,"z":-0.93},{"p":"d","m":"x","x":23,"z":-0.93},{"p":"d","m":"x","x":23.25,"z":-0.9},{"p":"d","m":"x","x":23.5,"z":-0.85},{"p":"d","m":"x","x":23.75,"z":-0.79},{"p":"d","m":"x","x":24,"z":-0.9},{"p":"d","m":"x","x":24.5,"z":-0.79},{"p":"d","m":"x","x":25,"z":-0.71},{"p":"d","m":"x","x":25.5,"z":-0.71},{"p":"d","m":"x","x":26,"z":-0.71}
],
"lns": [
{"p":"a","l":"os","x":6,"z":3.95},{"p":"a","l":"os","x":7,"z":4.05},{"p":"a","l":"os","x":8,"z":4.05},{"p":"a","l":"os","x":9,"z":4.1},{"p":"a","l":"os","x":10,"z":4.02},{"p":"a","l":"os","x":11,"z":4.05},{"p":"a","l":"os","x":12,"z":4.12},{"p":"a","l":"os","x":13,"z":4.1},{"p":"a","l":"os","x":14,"z":4.08},{"p":"a","l":"os","x":15,"z":4.1},{"p":"a","l":"os","x":16,"z":4.15},{"p":"a","l":"os","x":17,"z":4.3},{"p":"a","l":"os","x":17.5,"z":4.38},{"p":"a","l":"os","x":18,"z":4.45},{"p":"a","l":"os","x":18.5,"z":4.58},{"p":"a","l":"os","x":19,"z":4.7},{"p":"a","l":"os","x":19.5,"z":4.85},{"p":"a","l":"os","x":20,"z":5.05},{"p":"a","l":"os","x":20.5,"z":5.25},{"p":"a","l":"os","x":21,"z":5.2},{"p":"a","l":"os","x":21.5,"z":4.95},{"p":"a","l":"os","x":22,"z":4.5},{"p":"a","l":"os","x":22.5,"z":3.95},{"p":"a","l":"os","x":23,"z":3.6},{"p":"a","l":"os","x":23.5,"z":3.35},{"p":"a","l":"os","x":24,"z":3.2},{"p":"a","l":"os","x":24.5,"z":3.1},{"p":"a","l":"os","x":25,"z":3.0},{"p":"a","l":"os","x":25.5,"z":2.95},{"p":"a","l":"os","x":26,"z":2.82},
{"p":"a","l":"od","x":15,"z":4.1},{"p":"a","l":"od","x":16,"z":4.15},{"p":"a","l":"od","x":17,"z":4.3},{"p":"a","l":"od","x":18,"z":4.45},{"p":"a","l":"od","x":18.5,"z":4.58},{"p":"a","l":"od","x":19,"z":4.7},{"p":"a","l":"od","x":19.5,"z":4.82},{"p":"a","l":"od","x":20,"z":5.0},{"p":"a","l":"od","x":20.5,"z":5.15},{"p":"a","l":"od","x":21,"z":5.1},{"p":"a","l":"od","x":21.5,"z":4.85},{"p":"a","l":"od","x":22,"z":4.4},{"p":"a","l":"od","x":22.5,"z":3.85},{"p":"a","l":"od","x":23,"z":3.45},{"p":"a","l":"od","x":23.5,"z":3.15},{"p":"a","l":"od","x":24,"z":3.0},{"p":"a","l":"od","x":25,"z":2.8},{"p":"a","l":"od","x":26,"z":2.72},
{"p":"a","l":"oc","x":15,"z":4.12},{"p":"a","l":"oc","x":16,"z":4.18},{"p":"a","l":"oc","x":17,"z":4.32},{"p":"a","l":"oc","x":18,"z":4.5},{"p":"a","l":"oc","x":18.5,"z":4.65},{"p":"a","l":"oc","x":19,"z":4.8},{"p":"a","l":"oc","x":19.5,"z":5.0},{"p":"a","l":"oc","x":20,"z":5.35},{"p":"a","l":"oc","x":20.5,"z":5.62},{"p":"a","l":"oc","x":21,"z":5.62},{"p":"a","l":"oc","x":21.5,"z":5.35},{"p":"a","l":"oc","x":22,"z":4.8},{"p":"a","l":"oc","x":22.5,"z":4.25},{"p":"a","l":"oc","x":23,"z":3.9},{"p":"a","l":"oc","x":23.5,"z":3.72},{"p":"a","l":"oc","x":24,"z":3.62},{"p":"a","l":"oc","x":25,"z":3.5},{"p":"a","l":"oc","x":26,"z":3.3},
{"p":"a","l":"ps","x":6,"z":2.2},{"p":"a","l":"ps","x":7,"z":2.22},{"p":"a","l":"ps","x":8,"z":2.15},{"p":"a","l":"ps","x":9,"z":2.3},{"p":"a","l":"ps","x":10,"z":2.25},{"p":"a","l":"ps","x":11,"z":2.2},{"p":"a","l":"ps","x":12,"z":2.35},{"p":"a","l":"ps","x":13,"z":2.4},{"p":"a","l":"ps","x":14,"z":2.35},{"p":"a","l":"ps","x":15,"z":2.4},{"p":"a","l":"ps","x":16,"z":2.45},{"p":"a","l":"ps","x":17,"z":2.6},{"p":"a","l":"ps","x":17.5,"z":2.7},{"p":"a","l":"ps","x":18,"z":2.8},{"p":"a","l":"ps","x":18.5,"z":2.95},{"p":"a","l":"ps","x":19,"z":3.15},{"p":"a","l":"ps","x":19.5,"z":3.4},{"p":"a","l":"ps","x":20,"z":3.75},{"p":"a","l":"ps","x":20.5,"z":4.0},{"p":"a","l":"ps","x":21,"z":3.9},{"p":"a","l":"ps","x":21.5,"z":3.65},{"p":"a","l":"ps","x":22,"z":3.35},{"p":"a","l":"ps","x":22.5,"z":3.0},{"p":"a","l":"ps","x":23,"z":2.8},{"p":"a","l":"ps","x":23.5,"z":2.68},{"p":"a","l":"ps","x":24,"z":2.6},{"p":"a","l":"ps","x":24.5,"z":2.55},{"p":"a","l":"ps","x":25,"z":2.48},{"p":"a","l":"ps","x":25.5,"z":2.42},{"p":"a","l":"ps","x":26,"z":2.38},
{"p":"a","l":"pd","x":15,"z":2.4},{"p":"a","l":"pd","x":16,"z":2.45},{"p":"a","l":"pd","x":17,"z":2.6},{"p":"a","l":"pd","x":18,"z":2.8},{"p":"a","l":"pd","x":18.5,"z":2.95},{"p":"a","l":"pd","x":19,"z":3.12},{"p":"a","l":"pd","x":19.5,"z":3.35},{"p":"a","l":"pd","x":20,"z":3.68},{"p":"a","l":"pd","x":20.5,"z":3.9},{"p":"a","l":"pd","x":21,"z":3.82},{"p":"a","l":"pd","x":21.5,"z":3.58},{"p":"a","l":"pd","x":22,"z":3.3},{"p":"a","l":"pd","x":22.5,"z":2.95},{"p":"a","l":"pd","x":23,"z":2.75},{"p":"a","l":"pd","x":23.5,"z":2.62},{"p":"a","l":"pd","x":24,"z":2.52},{"p":"a","l":"pd","x":25,"z":2.42},{"p":"a","l":"pd","x":26,"z":2.35},
{"p":"a","l":"pc","x":15,"z":2.42},{"p":"a","l":"pc","x":16,"z":2.48},{"p":"a","l":"pc","x":17,"z":2.63},{"p":"a","l":"pc","x":18,"z":2.85},{"p":"a","l":"pc","x":18.5,"z":3.02},{"p":"a","l":"pc","x":19,"z":3.25},{"p":"a","l":"pc","x":19.5,"z":3.55},{"p":"a","l":"pc","x":20,"z":3.95},{"p":"a","l":"pc","x":20.5,"z":4.3},{"p":"a","l":"pc","x":21,"z":4.3},{"p":"a","l":"pc","x":21.5,"z":4.05},{"p":"a","l":"pc","x":22,"z":3.7},{"p":"a","l":"pc","x":22.5,"z":3.3},{"p":"a","l":"pc","x":23,"z":3.05},{"p":"a","l":"pc","x":23.5,"z":2.92},{"p":"a","l":"pc","x":24,"z":2.85},{"p":"a","l":"pc","x":25,"z":2.8},{"p":"a","l":"pc","x":26,"z":2.72},
{"p":"a","l":"ts","x":6,"z":0},{"p":"a","l":"ts","x":10,"z":0},{"p":"a","l":"ts","x":14,"z":0},{"p":"a","l":"ts","x":18,"z":0},{"p":"a","l":"ts","x":19,"z":0.02},{"p":"a","l":"ts","x":20,"z":0.02},{"p":"a","l":"ts","x":21,"z":0.03},{"p":"a","l":"ts","x":22,"z":0.06},{"p":"a","l":"ts","x":23,"z":0.12},{"p":"a","l":"ts","x":24,"z":0.15},{"p":"a","l":"ts","x":25,"z":0.16},{"p":"a","l":"ts","x":26,"z":0.16},
{"p":"a","l":"xs","x":6,"z":-1.95},{"p":"a","l":"xs","x":7,"z":-1.95},{"p":"a","l":"xs","x":8,"z":-1.98},{"p":"a","l":"xs","x":9,"z":-1.92},{"p":"a","l":"xs","x":10,"z":-1.93},{"p":"a","l":"xs","x":11,"z":-1.95},{"p":"a","l":"xs","x":12,"z":-1.95},{"p":"a","l":"xs","x":13,"z":-1.93},{"p":"a","l":"xs","x":14,"z":-1.9},{"p":"a","l":"xs","x":15,"z":-1.88},{"p":"a","l":"xs","x":16,"z":-1.88},{"p":"a","l":"xs","x":17,"z":-1.87},{"p":"a","l":"xs","x":18,"z":-1.84},{"p":"a","l":"xs","x":19,"z":-1.72},{"p":"a","l":"xs","x":20,"z":-1.58},{"p":"a","l":"xs","x":21,"z":-1.42},{"p":"a","l":"xs","x":22,"z":-1.22},{"p":"a","l":"xs","x":23,"z":-0.98},{"p":"a","l":"xs","x":24,"z":-0.93},{"p":"a","l":"xs","x":25,"z":-0.87},{"p":"a","l":"xs","x":26,"z":-0.88},
{"p":"b","l":"os","x":6,"z":4.05},{"p":"b","l":"os","x":7,"z":4.15},{"p":"b","l":"os","x":8,"z":4.1},{"p":"b","l":"os","x":9,"z":4.15},{"p":"b","l":"os","x":10,"z":4.08},{"p":"b","l":"os","x":11,"z":4.12},{"p":"b","l":"os","x":12,"z":4.2},{"p":"b","l":"os","x":13,"z":4.2},{"p":"b","l":"os","x":14,"z":4.18},{"p":"b","l":"os","x":15,"z":4.22},{"p":"b","l":"os","x":16,"z":4.38},{"p":"b","l":"os","x":17,"z":4.65},{"p":"b","l":"os","x":17.5,"z":4.8},{"p":"b","l":"os","x":18,"z":4.97},{"p":"b","l":"os","x":18.5,"z":5.12},{"p":"b","l":"os","x":19,"z":5.3},{"p":"b","l":"os","x":19.5,"z":5.55},{"p":"b","l":"os","x":20,"z":5.92},{"p":"b","l":"os","x":20.5,"z":5.88},{"p":"b","l":"os","x":21,"z":5.65},{"p":"b","l":"os","x":21.5,"z":5.3},{"p":"b","l":"os","x":22,"z":4.6},{"p":"b","l":"os","x":22.5,"z":3.95},{"p":"b","l":"os","x":23,"z":3.5},{"p":"b","l":"os","x":23.5,"z":3.27},{"p":"b","l":"os","x":24,"z":3.12},{"p":"b","l":"os","x":24.5,"z":2.98},{"p":"b","l":"os","x":25,"z":2.85},{"p":"b","l":"os","x":25.5,"z":2.72},{"p":"b","l":"os","x":26,"z":2.58},
{"p":"b","l":"od","x":15,"z":4.22},{"p":"b","l":"od","x":16,"z":4.38},{"p":"b","l":"od","x":17,"z":4.62},{"p":"b","l":"od","x":18,"z":4.95},{"p":"b","l":"od","x":18.5,"z":5.1},{"p":"b","l":"od","x":19,"z":5.28},{"p":"b","l":"od","x":19.5,"z":5.52},{"p":"b","l":"od","x":20,"z":5.85},{"p":"b","l":"od","x":20.5,"z":5.82},{"p":"b","l":"od","x":21,"z":5.6},{"p":"b","l":"od","x":21.5,"z":5.25},{"p":"b","l":"od","x":22,"z":4.55},{"p":"b","l":"od","x":22.5,"z":3.9},{"p":"b","l":"od","x":23,"z":3.42},{"p":"b","l":"od","x":23.5,"z":3.2},{"p":"b","l":"od","x":24,"z":3.02},{"p":"b","l":"od","x":25,"z":2.8},{"p":"b","l":"od","x":26,"z":2.55},
{"p":"b","l":"oc","x":15,"z":4.25},{"p":"b","l":"oc","x":16,"z":4.42},{"p":"b","l":"oc","x":17,"z":4.68},{"p":"b","l":"oc","x":18,"z":5.02},{"p":"b","l":"oc","x":18.5,"z":5.2},{"p":"b","l":"oc","x":19,"z":5.4},{"p":"b","l":"oc","x":19.5,"z":5.7},{"p":"b","l":"oc","x":20,"z":6.1},{"p":"b","l":"oc","x":20.5,"z":6.15},{"p":"b","l":"oc","x":21,"z":5.95},{"p":"b","l":"oc","x":21.5,"z":5.55},{"p":"b","l":"oc","x":22,"z":4.9},{"p":"b","l":"oc","x":22.5,"z":4.2},{"p":"b","l":"oc","x":23,"z":3.75},{"p":"b","l":"oc","x":23.5,"z":3.5},{"p":"b","l":"oc","x":24,"z":3.3},{"p":"b","l":"oc","x":25,"z":3.05},{"p":"b","l":"oc","x":26,"z":2.75},
{"p":"b","l":"ps","x":6,"z":2.3},{"p":"b","l":"ps","x":7,"z":2.25},{"p":"b","l":"ps","x":8,"z":2.4},{"p":"b","l":"ps","x":9,"z":2.42},{"p":"b","l":"ps","x":10,"z":2.32},{"p":"b","l":"ps","x":11,"z":2.3},{"p":"b","l":"ps","x":12,"z":2.42},{"p":"b","l":"ps","x":13,"z":2.48},{"p":"b","l":"ps","x":14,"z":2.52},{"p":"b","l":"ps","x":15,"z":2.56},{"p":"b","l":"ps","x":16,"z":2.72},{"p":"b","l":"ps","x":17,"z":3.0},{"p":"b","l":"ps","x":17.5,"z":3.15},{"p":"b","l":"ps","x":18,"z":3.38},{"p":"b","l":"ps","x":18.5,"z":3.62},{"p":"b","l":"ps","x":19,"z":3.9},{"p":"b","l":"ps","x":19.5,"z":4.15},{"p":"b","l":"ps","x":20,"z":4.52},{"p":"b","l":"ps","x":20.5,"z":4.62},{"p":"b","l":"ps","x":21,"z":4.4},{"p":"b","l":"ps","x":21.5,"z":4.08},{"p":"b","l":"ps","x":22,"z":3.72},{"p":"b","l":"ps","x":22.5,"z":3.25},{"p":"b","l":"ps","x":23,"z":2.78},{"p":"b","l":"ps","x":23.5,"z":2.56},{"p":"b","l":"ps","x":24,"z":2.45},{"p":"b","l":"ps","x":24.5,"z":2.33},{"p":"b","l":"ps","x":25,"z":2.25},{"p":"b","l":"ps","x":25.5,"z":2.17},{"p":"b","l":"ps","x":26,"z":2.1},
{"p":"b","l":"pd","x":15,"z":2.56},{"p":"b","l":"pd","x":16,"z":2.7},{"p":"b","l":"pd","x":17,"z":2.98},{"p":"b","l":"pd","x":18,"z":3.36},{"p":"b","l":"pd","x":18.5,"z":3.6},{"p":"b","l":"pd","x":19,"z":3.88},{"p":"b","l":"pd","x":19.5,"z":4.12},{"p":"b","l":"pd","x":20,"z":4.45},{"p":"b","l":"pd","x":20.5,"z":4.55},{"p":"b","l":"pd","x":21,"z":4.35},{"p":"b","l":"pd","x":21.5,"z":4.03},{"p":"b","l":"pd","x":22,"z":3.68},{"p":"b","l":"pd","x":22.5,"z":3.2},{"p":"b","l":"pd","x":23,"z":2.75},{"p":"b","l":"pd","x":23.5,"z":2.55},{"p":"b","l":"pd","x":24,"z":2.45},{"p":"b","l":"pd","x":25,"z":2.3},{"p":"b","l":"pd","x":26,"z":2.2},
{"p":"b","l":"pc","x":15,"z":2.58},{"p":"b","l":"pc","x":16,"z":2.74},{"p":"b","l":"pc","x":17,"z":3.03},{"p":"b","l":"pc","x":18,"z":3.43},{"p":"b","l":"pc","x":18.5,"z":3.7},{"p":"b","l":"pc","x":19,"z":4.0},{"p":"b","l":"pc","x":19.5,"z":4.3},{"p":"b","l":"pc","x":20,"z":4.75},{"p":"b","l":"pc","x":20.5,"z":4.85},{"p":"b","l":"pc","x":21,"z":4.62},{"p":"b","l":"pc","x":21.5,"z":4.25},{"p":"b","l":"pc","x":22,"z":3.85},{"p":"b","l":"pc","x":22.5,"z":3.35},{"p":"b","l":"pc","x":23,"z":2.95},{"p":"b","l":"pc","x":23.5,"z":2.72},{"p":"b","l":"pc","x":24,"z":2.6},{"p":"b","l":"pc","x":25,"z":2.45},{"p":"b","l":"pc","x":26,"z":2.3},
{"p":"b","l":"ts","x":6,"z":-0.02},{"p":"b","l":"ts","x":10,"z":-0.02},{"p":"b","l":"ts","x":14,"z":-0.02},{"p":"b","l":"ts","x":18,"z":-0.02},{"p":"b","l":"ts","x":19,"z":-0.02},{"p":"b","l":"ts","x":20,"z":-0.02},{"p":"b","l":"ts","x":21,"z":-0.01},{"p":"b","l":"ts","x":22,"z":0.03},{"p":"b","l":"ts","x":23,"z":0.1},{"p":"b","l":"ts","x":24,"z":0.14},{"p":"b","l":"ts","x":25,"z":0.14},{"p":"b","l":"ts","x":26,"z":0.15},
{"p":"b","l":"xs","x":6,"z":-1.97},{"p":"b","l":"xs","x":7,"z":-2.0},{"p":"b","l":"xs","x":8,"z":-2.05},{"p":"b","l":"xs","x":9,"z":-2.0},{"p":"b","l":"xs","x":10,"z":-1.98},{"p":"b","l":"xs","x":11,"z":-2.0},{"p":"b","l":"xs","x":12,"z":-2.02},{"p":"b","l":"xs","x":13,"z":-1.98},{"p":"b","l":"xs","x":14,"z":-1.92},{"p":"b","l":"xs","x":15,"z":-1.9},{"p":"b","l":"xs","x":16,"z":-1.92},{"p":"b","l":"xs","x":17,"z":-1.92},{"p":"b","l":"xs","x":18,"z":-1.9},{"p":"b","l":"xs","x":19,"z":-1.75},{"p":"b","l":"xs","x":20,"z":-1.6},{"p":"b","l":"xs","x":21,"z":-1.45},{"p":"b","l":"xs","x":22,"z":-1.18},{"p":"b","l":"xs","x":23,"z":-0.95},{"p":"b","l":"xs","x":24,"z":-0.9},{"p":"b","l":"xs","x":25,"z":-0.82},{"p":"b","l":"xs","x":26,"z":-0.8},
{"p":"c","l":"os","x":6,"z":4.05},{"p":"c","l":"os","x":7,"z":4.15},{"p":"c","l":"os","x":8,"z":4.25},{"p":"c","l":"os","x":9,"z":4.28},{"p":"c","l":"os","x":10,"z":4.15},{"p":"c","l":"os","x":11,"z":4.3},{"p":"c","l":"os","x":12,"z":4.42},{"p":"c","l":"os","x":13,"z":4.35},{"p":"c","l":"os","x":14,"z":4.38},{"p":"c","l":"os","x":15,"z":4.4},{"p":"c","l":"os","x":16,"z":4.58},{"p":"c","l":"os","x":17,"z":4.85},{"p":"c","l":"os","x":17.5,"z":5.01},{"p":"c","l":"os","x":18,"z":5.18},{"p":"c","l":"os","x":18.5,"z":5.35},{"p":"c","l":"os","x":19,"z":5.62},{"p":"c","l":"os","x":19.5,"z":5.95},{"p":"c","l":"os","x":20,"z":6.32},{"p":"c","l":"os","x":20.5,"z":6.25},{"p":"c","l":"os","x":21,"z":5.8},{"p":"c","l":"os","x":21.5,"z":5.15},{"p":"c","l":"os","x":22,"z":4.3},{"p":"c","l":"os","x":22.5,"z":3.55},{"p":"c","l":"os","x":23,"z":3.18},{"p":"c","l":"os","x":23.5,"z":3.04},{"p":"c","l":"os","x":24,"z":2.98},{"p":"c","l":"os","x":24.5,"z":2.93},{"p":"c","l":"os","x":25,"z":2.85},{"p":"c","l":"os","x":25.5,"z":2.7},{"p":"c","l":"os","x":26,"z":2.58},
{"p":"c","l":"od","x":15,"z":4.4},{"p":"c","l":"od","x":16,"z":4.56},{"p":"c","l":"od","x":17,"z":4.83},{"p":"c","l":"od","x":18,"z":5.15},{"p":"c","l":"od","x":18.5,"z":5.32},{"p":"c","l":"od","x":19,"z":5.58},{"p":"c","l":"od","x":19.5,"z":5.9},{"p":"c","l":"od","x":20,"z":6.25},{"p":"c","l":"od","x":20.5,"z":6.18},{"p":"c","l":"od","x":21,"z":5.75},{"p":"c","l":"od","x":21.5,"z":5.1},{"p":"c","l":"od","x":22,"z":4.25},{"p":"c","l":"od","x":22.5,"z":3.5},{"p":"c","l":"od","x":23,"z":3.12},{"p":"c","l":"od","x":23.5,"z":2.98},{"p":"c","l":"od","x":24,"z":2.9},{"p":"c","l":"od","x":25,"z":2.75},{"p":"c","l":"od","x":26,"z":2.55},
{"p":"c","l":"oc","x":15,"z":4.42},{"p":"c","l":"oc","x":16,"z":4.6},{"p":"c","l":"oc","x":17,"z":4.9},{"p":"c","l":"oc","x":18,"z":5.25},{"p":"c","l":"oc","x":18.5,"z":5.45},{"p":"c","l":"oc","x":19,"z":5.75},{"p":"c","l":"oc","x":19.5,"z":6.15},{"p":"c","l":"oc","x":20,"z":6.6},{"p":"c","l":"oc","x":20.5,"z":6.62},{"p":"c","l":"oc","x":21,"z":6.15},{"p":"c","l":"oc","x":21.5,"z":5.45},{"p":"c","l":"oc","x":22,"z":4.55},{"p":"c","l":"oc","x":22.5,"z":3.8},{"p":"c","l":"oc","x":23,"z":3.4},{"p":"c","l":"oc","x":23.5,"z":3.22},{"p":"c","l":"oc","x":24,"z":3.15},{"p":"c","l":"oc","x":25,"z":3.0},{"p":"c","l":"oc","x":26,"z":2.75},
{"p":"c","l":"ps","x":6,"z":2.4},{"p":"c","l":"ps","x":7,"z":2.45},{"p":"c","l":"ps","x":8,"z":2.5},{"p":"c","l":"ps","x":9,"z":2.48},{"p":"c","l":"ps","x":10,"z":2.38},{"p":"c","l":"ps","x":11,"z":2.42},{"p":"c","l":"ps","x":12,"z":2.58},{"p":"c","l":"ps","x":13,"z":2.58},{"p":"c","l":"ps","x":14,"z":2.6},{"p":"c","l":"ps","x":15,"z":2.72},{"p":"c","l":"ps","x":16,"z":2.95},{"p":"c","l":"ps","x":17,"z":3.25},{"p":"c","l":"ps","x":17.5,"z":3.39},{"p":"c","l":"ps","x":18,"z":3.6},{"p":"c","l":"ps","x":18.5,"z":3.85},{"p":"c","l":"ps","x":19,"z":4.2},{"p":"c","l":"ps","x":19.5,"z":4.6},{"p":"c","l":"ps","x":20,"z":5.0},{"p":"c","l":"ps","x":20.5,"z":5.05},{"p":"c","l":"ps","x":21,"z":4.8},{"p":"c","l":"ps","x":21.5,"z":4.35},{"p":"c","l":"ps","x":22,"z":3.75},{"p":"c","l":"ps","x":22.5,"z":3.0},{"p":"c","l":"ps","x":23,"z":2.6},{"p":"c","l":"ps","x":23.5,"z":2.42},{"p":"c","l":"ps","x":24,"z":2.38},{"p":"c","l":"ps","x":24.5,"z":2.33},{"p":"c","l":"ps","x":25,"z":2.28},{"p":"c","l":"ps","x":25.5,"z":2.22},{"p":"c","l":"ps","x":26,"z":2.18},
{"p":"c","l":"pd","x":15,"z":2.72},{"p":"c","l":"pd","x":16,"z":2.93},{"p":"c","l":"pd","x":17,"z":3.23},{"p":"c","l":"pd","x":18,"z":3.58},{"p":"c","l":"pd","x":18.5,"z":3.82},{"p":"c","l":"pd","x":19,"z":4.15},{"p":"c","l":"pd","x":19.5,"z":4.55},{"p":"c","l":"pd","x":20,"z":4.92},{"p":"c","l":"pd","x":20.5,"z":4.98},{"p":"c","l":"pd","x":21,"z":4.72},{"p":"c","l":"pd","x":21.5,"z":4.3},{"p":"c","l":"pd","x":22,"z":3.7},{"p":"c","l":"pd","x":22.5,"z":2.95},{"p":"c","l":"pd","x":23,"z":2.58},{"p":"c","l":"pd","x":23.5,"z":2.42},{"p":"c","l":"pd","x":24,"z":2.38},{"p":"c","l":"pd","x":25,"z":2.3},{"p":"c","l":"pd","x":26,"z":2.22},
{"p":"c","l":"pc","x":15,"z":2.75},{"p":"c","l":"pc","x":16,"z":2.97},{"p":"c","l":"pc","x":17,"z":3.28},{"p":"c","l":"pc","x":18,"z":3.66},{"p":"c","l":"pc","x":18.5,"z":3.92},{"p":"c","l":"pc","x":19,"z":4.3},{"p":"c","l":"pc","x":19.5,"z":4.78},{"p":"c","l":"pc","x":20,"z":5.25},{"p":"c","l":"pc","x":20.5,"z":5.3},{"p":"c","l":"pc","x":21,"z":5.0},{"p":"c","l":"pc","x":21.5,"z":4.5},{"p":"c","l":"pc","x":22,"z":3.85},{"p":"c","l":"pc","x":22.5,"z":3.15},{"p":"c","l":"pc","x":23,"z":2.8},{"p":"c","l":"pc","x":23.5,"z":2.62},{"p":"c","l":"pc","x":24,"z":2.55},{"p":"c","l":"pc","x":25,"z":2.48},{"p":"c","l":"pc","x":26,"z":2.4},
{"p":"c","l":"ts","x":6,"z":0},{"p":"c","l":"ts","x":10,"z":0},{"p":"c","l":"ts","x":14,"z":-0.01},{"p":"c","l":"ts","x":18,"z":0},{"p":"c","l":"ts","x":19,"z":0},{"p":"c","l":"ts","x":20,"z":0},{"p":"c","l":"ts","x":21,"z":0.01},{"p":"c","l":"ts","x":22,"z":0.07},{"p":"c","l":"ts","x":23,"z":0.14},{"p":"c","l":"ts","x":24,"z":0.16},{"p":"c","l":"ts","x":25,"z":0.16},{"p":"c","l":"ts","x":26,"z":0.17},
{"p":"c","l":"xs","x":6,"z":-1.92},{"p":"c","l":"xs","x":7,"z":-1.97},{"p":"c","l":"xs","x":8,"z":-2.0},{"p":"c","l":"xs","x":9,"z":-1.97},{"p":"c","l":"xs","x":10,"z":-1.88},{"p":"c","l":"xs","x":11,"z":-1.97},{"p":"c","l":"xs","x":12,"z":-2.05},{"p":"c","l":"xs","x":13,"z":-1.95},{"p":"c","l":"xs","x":14,"z":-1.93},{"p":"c","l":"xs","x":15,"z":-1.92},{"p":"c","l":"xs","x":16,"z":-1.95},{"p":"c","l":"xs","x":17,"z":-1.95},{"p":"c","l":"xs","x":18,"z":-1.95},{"p":"c","l":"xs","x":19,"z":-1.78},{"p":"c","l":"xs","x":20,"z":-1.6},{"p":"c","l":"xs","x":21,"z":-1.4},{"p":"c","l":"xs","x":22,"z":-1.14},{"p":"c","l":"xs","x":23,"z":-0.95},{"p":"c","l":"xs","x":24,"z":-0.88},{"p":"c","l":"xs","x":25,"z":-0.78},{"p":"c","l":"xs","x":26,"z":-0.73},
{"p":"d","l":"os","x":6,"z":4.08},{"p":"d","l":"os","x":7,"z":4.1},{"p":"d","l":"os","x":8,"z":4.15},{"p":"d","l":"os","x":9,"z":4.25},{"p":"d","l":"os","x":10,"z":4.3},{"p":"d","l":"os","x":11,"z":4.38},{"p":"d","l":"os","x":12,"z":4.45},{"p":"d","l":"os","x":13,"z":4.48},{"p":"d","l":"os","x":14,"z":4.52},{"p":"d","l":"os","x":15,"z":4.62},{"p":"d","l":"os","x":16,"z":4.85},{"p":"d","l":"os","x":17,"z":5.1},{"p":"d","l":"os","x":17.5,"z":5.26},{"p":"d","l":"os","x":18,"z":5.48},{"p":"d","l":"os","x":18.5,"z":5.75},{"p":"d","l":"os","x":19,"z":6.05},{"p":"d","l":"os","x":19.5,"z":6.33},{"p":"d","l":"os","x":20,"z":6.55},{"p":"d","l":"os","x":20.5,"z":6.2},{"p":"d","l":"os","x":21,"z":5.68},{"p":"d","l":"os","x":21.5,"z":5.1},{"p":"d","l":"os","x":22,"z":4.45},{"p":"d","l":"os","x":22.5,"z":3.9},{"p":"d","l":"os","x":23,"z":3.5},{"p":"d","l":"os","x":23.5,"z":3.25},{"p":"d","l":"os","x":24,"z":3.08},{"p":"d","l":"os","x":24.5,"z":2.95},{"p":"d","l":"os","x":25,"z":2.82},{"p":"d","l":"os","x":25.5,"z":2.7},{"p":"d","l":"os","x":26,"z":2.6},
{"p":"d","l":"od","x":15,"z":4.62},{"p":"d","l":"od","x":16,"z":4.82},{"p":"d","l":"od","x":17,"z":5.07},{"p":"d","l":"od","x":18,"z":5.45},{"p":"d","l":"od","x":18.5,"z":5.7},{"p":"d","l":"od","x":19,"z":6.0},{"p":"d","l":"od","x":19.5,"z":6.28},{"p":"d","l":"od","x":20,"z":6.5},{"p":"d","l":"od","x":20.5,"z":6.15},{"p":"d","l":"od","x":21,"z":5.62},{"p":"d","l":"od","x":21.5,"z":5.05},{"p":"d","l":"od","x":22,"z":4.4},{"p":"d","l":"od","x":22.5,"z":3.85},{"p":"d","l":"od","x":23,"z":3.45},{"p":"d","l":"od","x":23.5,"z":3.18},{"p":"d","l":"od","x":24,"z":3.0},{"p":"d","l":"od","x":25,"z":2.75},{"p":"d","l":"od","x":26,"z":2.55},
{"p":"d","l":"oc","x":15,"z":4.65},{"p":"d","l":"oc","x":16,"z":4.87},{"p":"d","l":"oc","x":17,"z":5.15},{"p":"d","l":"oc","x":18,"z":5.55},{"p":"d","l":"oc","x":18.5,"z":5.85},{"p":"d","l":"oc","x":19,"z":6.2},{"p":"d","l":"oc","x":19.5,"z":6.55},{"p":"d","l":"oc","x":20,"z":6.95},{"p":"d","l":"oc","x":20.5,"z":6.6},{"p":"d","l":"oc","x":21,"z":6.0},{"p":"d","l":"oc","x":21.5,"z":5.4},{"p":"d","l":"oc","x":22,"z":4.7},{"p":"d","l":"oc","x":22.5,"z":4.1},{"p":"d","l":"oc","x":23,"z":3.72},{"p":"d","l":"oc","x":23.5,"z":3.45},{"p":"d","l":"oc","x":24,"z":3.25},{"p":"d","l":"oc","x":25,"z":3.0},{"p":"d","l":"oc","x":26,"z":2.75},
{"p":"d","l":"ps","x":6,"z":2.35},{"p":"d","l":"ps","x":7,"z":2.38},{"p":"d","l":"ps","x":8,"z":2.3},{"p":"d","l":"ps","x":9,"z":2.32},{"p":"d","l":"ps","x":10,"z":2.43},{"p":"d","l":"ps","x":11,"z":2.55},{"p":"d","l":"ps","x":12,"z":2.68},{"p":"d","l":"ps","x":13,"z":2.78},{"p":"d","l":"ps","x":14,"z":2.88},{"p":"d","l":"ps","x":15,"z":2.98},{"p":"d","l":"ps","x":16,"z":3.1},{"p":"d","l":"ps","x":17,"z":3.4},{"p":"d","l":"ps","x":17.5,"z":3.69},{"p":"d","l":"ps","x":18,"z":3.9},{"p":"d","l":"ps","x":18.5,"z":4.25},{"p":"d","l":"ps","x":19,"z":4.6},{"p":"d","l":"ps","x":19.5,"z":4.98},{"p":"d","l":"ps","x":20,"z":5.3},{"p":"d","l":"ps","x":20.5,"z":4.95},{"p":"d","l":"ps","x":21,"z":4.62},{"p":"d","l":"ps","x":21.5,"z":4.3},{"p":"d","l":"ps","x":22,"z":3.85},{"p":"d","l":"ps","x":22.5,"z":3.3},{"p":"d","l":"ps","x":23,"z":2.85},{"p":"d","l":"ps","x":23.5,"z":2.6},{"p":"d","l":"ps","x":24,"z":2.45},{"p":"d","l":"ps","x":24.5,"z":2.35},{"p":"d","l":"ps","x":25,"z":2.28},{"p":"d","l":"ps","x":25.5,"z":2.2},{"p":"d","l":"ps","x":26,"z":2.15},
{"p":"d","l":"pd","x":15,"z":2.98},{"p":"d","l":"pd","x":16,"z":3.08},{"p":"d","l":"pd","x":17,"z":3.38},{"p":"d","l":"pd","x":18,"z":3.88},{"p":"d","l":"pd","x":18.5,"z":4.22},{"p":"d","l":"pd","x":19,"z":4.55},{"p":"d","l":"pd","x":19.5,"z":4.92},{"p":"d","l":"pd","x":20,"z":5.25},{"p":"d","l":"pd","x":20.5,"z":4.9},{"p":"d","l":"pd","x":21,"z":4.58},{"p":"d","l":"pd","x":21.5,"z":4.25},{"p":"d","l":"pd","x":22,"z":3.8},{"p":"d","l":"pd","x":22.5,"z":3.25},{"p":"d","l":"pd","x":23,"z":2.8},{"p":"d","l":"pd","x":23.5,"z":2.58},{"p":"d","l":"pd","x":24,"z":2.45},{"p":"d","l":"pd","x":25,"z":2.3},{"p":"d","l":"pd","x":26,"z":2.2},
{"p":"d","l":"pc","x":15,"z":3.0},{"p":"d","l":"pc","x":16,"z":3.12},{"p":"d","l":"pc","x":17,"z":3.45},{"p":"d","l":"pc","x":18,"z":3.98},{"p":"d","l":"pc","x":18.5,"z":4.35},{"p":"d","l":"pc","x":19,"z":4.75},{"p":"d","l":"pc","x":19.5,"z":5.2},{"p":"d","l":"pc","x":20,"z":5.62},{"p":"d","l":"pc","x":20.5,"z":5.25},{"p":"d","l":"pc","x":21,"z":4.88},{"p":"d","l":"pc","x":21.5,"z":4.5},{"p":"d","l":"pc","x":22,"z":4.0},{"p":"d","l":"pc","x":22.5,"z":3.45},{"p":"d","l":"pc","x":23,"z":3.0},{"p":"d","l":"pc","x":23.5,"z":2.75},{"p":"d","l":"pc","x":24,"z":2.6},{"p":"d","l":"pc","x":25,"z":2.45},{"p":"d","l":"pc","x":26,"z":2.32},
{"p":"d","l":"ts","x":6,"z":0},{"p":"d","l":"ts","x":10,"z":0},{"p":"d","l":"ts","x":14,"z":0},{"p":"d","l":"ts","x":18,"z":0.02},{"p":"d","l":"ts","x":19,"z":0.02},{"p":"d","l":"ts","x":20,"z":0.02},{"p":"d","l":"ts","x":21,"z":0.02},{"p":"d","l":"ts","x":22,"z":0.07},{"p":"d","l":"ts","x":23,"z":0.15},{"p":"d","l":"ts","x":24,"z":0.17},{"p":"d","l":"ts","x":25,"z":0.17},{"p":"d","l":"ts","x":26,"z":0.17},
{"p":"d","l":"xs","x":6,"z":-1.93},{"p":"d","l":"xs","x":7,"z":-1.97},{"p":"d","l":"xs","x":8,"z":-2.02},{"p":"d","l":"xs","x":9,"z":-2.05},{"p":"d","l":"xs","x":10,"z":-1.95},{"p":"d","l":"xs","x":11,"z":-2.02},{"p":"d","l":"xs","x":12,"z":-2.02},{"p":"d","l":"xs","x":13,"z":-1.95},{"p":"d","l":"xs","x":14,"z":-1.93},{"p":"d","l":"xs","x":15,"z":-1.93},{"p":"d","l":"xs","x":16,"z":-1.9},{"p":"d","l":"xs","x":17,"z":-1.95},{"p":"d","l":"xs","x":18,"z":-1.93},{"p":"d","l":"xs","x":19,"z":-1.8},{"p":"d","l":"xs","x":20,"z":-1.58},{"p":"d","l":"xs","x":21,"z":-1.4},{"p":"d","l":"xs","x":22,"z":-1.17},{"p":"d","l":"xs","x":23,"z":-0.9},{"p":"d","l":"xs","x":24,"z":-0.84},{"p":"d","l":"xs","x":25,"z":-0.74},{"p":"d","l":"xs","x":26,"z":-0.72}
]
},
"vconcat": [
{"width": 552, "height": 148, "title": {"text": "(a) R451304"},
 "encoding": {
  "x": {"field": "x", "type": "quantitative", "title": null, "scale": {"domain": [6, 26], "nice": false, "zero": false}, "axis": {"values": [6,7,8,9,10,11,12,13,14,15,16,17,18,19,20,21,22,23,24,25,26], "labels": false, "tickSize": -3}},
  "y": {"field": "z", "type": "quantitative", "title": "z (cm)", "scale": {"domain": [-4, 8], "nice": false, "zero": false}, "axis": {"values": [-4,-2,0,2,4,6,8], "tickSize": 2, "labelPadding": 1, "titlePadding": 2}}
 },
 "layer": [
 {"data": {"name": "lns"}, "transform": [{"filter": "datum.p == 'a'"}], "mark": {"type": "line", "interpolate": "monotone", "color": "#222", "strokeWidth": 0.9},
  "encoding": {"detail": {"field": "l", "type": "nominal"},
   "strokeDash": {"field": "l", "type": "nominal", "scale": {"domain": ["os","od","oc","ps","pd","pc","ts","xs"], "range": [[1,0],[4,2],[6,2,1,2],[1,0],[4,2],[6,2,1,2],[1,0],[1,0]]}, "legend": null}}},
 {"data": {"name": "pts"}, "transform": [{"filter": "datum.p == 'a'"}], "mark": {"type": "point", "filled": false, "color": "#222", "strokeWidth": 0.8, "size": 22},
  "encoding": {"shape": {"field": "m", "type": "nominal", "scale": {"domain": ["o","p","t","x"], "range": ["circle", "M-1,0H1M0,-1V1", "triangle-up", "M-0.8,-0.8L0.8,0.8M-0.8,0.8L0.8,-0.8"]}, "legend": null}}}
]},
{"width": 552, "height": 148, "title": {"text": "(b) R451604"},
 "encoding": {
  "x": {"field": "x", "type": "quantitative", "title": null, "scale": {"domain": [6, 26], "nice": false, "zero": false}, "axis": {"values": [6,7,8,9,10,11,12,13,14,15,16,17,18,19,20,21,22,23,24,25,26], "labels": false, "tickSize": -3}},
  "y": {"field": "z", "type": "quantitative", "title": "z (cm)", "scale": {"domain": [-4, 8], "nice": false, "zero": false}, "axis": {"values": [-4,-2,0,2,4,6], "tickSize": 2, "labelPadding": 1, "titlePadding": 2}}
 },
 "layer": [
 {"data": {"name": "lns"}, "transform": [{"filter": "datum.p == 'b'"}], "mark": {"type": "line", "interpolate": "monotone", "color": "#222", "strokeWidth": 0.9},
  "encoding": {"detail": {"field": "l", "type": "nominal"},
   "strokeDash": {"field": "l", "type": "nominal", "scale": {"domain": ["os","od","oc","ps","pd","pc","ts","xs"], "range": [[1,0],[4,2],[6,2,1,2],[1,0],[4,2],[6,2,1,2],[1,0],[1,0]]}, "legend": null}}},
 {"data": {"name": "pts"}, "transform": [{"filter": "datum.p == 'b'"}], "mark": {"type": "point", "filled": false, "color": "#222", "strokeWidth": 0.8, "size": 22},
  "encoding": {"shape": {"field": "m", "type": "nominal", "scale": {"domain": ["o","p","t","x"], "range": ["circle", "M-1,0H1M0,-1V1", "triangle-up", "M-0.8,-0.8L0.8,0.8M-0.8,0.8L0.8,-0.8"]}, "legend": null}}}
]},
{"width": 552, "height": 148, "title": {"text": "(c) R451904"},
 "encoding": {
  "x": {"field": "x", "type": "quantitative", "title": null, "scale": {"domain": [6, 26], "nice": false, "zero": false}, "axis": {"values": [6,7,8,9,10,11,12,13,14,15,16,17,18,19,20,21,22,23,24,25,26], "labels": false, "tickSize": -3}},
  "y": {"field": "z", "type": "quantitative", "title": "z (cm)", "scale": {"domain": [-4, 8], "nice": false, "zero": false}, "axis": {"values": [-4,-2,0,2,4,6], "tickSize": 2, "labelPadding": 1, "titlePadding": 2}}
 },
 "layer": [
 {"data": {"name": "lns"}, "transform": [{"filter": "datum.p == 'c'"}], "mark": {"type": "line", "interpolate": "monotone", "color": "#222", "strokeWidth": 0.9},
  "encoding": {"detail": {"field": "l", "type": "nominal"},
   "strokeDash": {"field": "l", "type": "nominal", "scale": {"domain": ["os","od","oc","ps","pd","pc","ts","xs"], "range": [[1,0],[4,2],[6,2,1,2],[1,0],[4,2],[6,2,1,2],[1,0],[1,0]]}, "legend": null}}},
 {"data": {"name": "pts"}, "transform": [{"filter": "datum.p == 'c'"}], "mark": {"type": "point", "filled": false, "color": "#222", "strokeWidth": 0.8, "size": 22},
  "encoding": {"shape": {"field": "m", "type": "nominal", "scale": {"domain": ["o","p","t","x"], "range": ["circle", "M-1,0H1M0,-1V1", "triangle-up", "M-0.8,-0.8L0.8,0.8M-0.8,0.8L0.8,-0.8"]}, "legend": null}}}
]},
{"width": 552, "height": 148, "title": {"text": "(d) R452204"},
 "encoding": {
  "x": {"field": "x", "type": "quantitative", "title": "x (m)", "scale": {"domain": [6, 26], "nice": false, "zero": false}, "axis": {"values": [6,7,8,9,10,11,12,13,14,15,16,17,18,19,20,21,22,23,24,25,26], "labelExpr": "datum.value % 2 == 0 ? datum.label : ''", "tickSize": -3, "labelPadding": 10, "titlePadding": 3}},
  "y": {"field": "z", "type": "quantitative", "title": "z (cm)", "scale": {"domain": [-4, 8], "nice": false, "zero": false}, "axis": {"values": [-4,-2,0,2,4,6], "tickSize": 2, "labelPadding": 1, "titlePadding": 2}}
 },
 "layer": [
 {"data": {"name": "lns"}, "transform": [{"filter": "datum.p == 'd'"}], "mark": {"type": "line", "interpolate": "monotone", "color": "#222", "strokeWidth": 0.9},
  "encoding": {"detail": {"field": "l", "type": "nominal"},
   "strokeDash": {"field": "l", "type": "nominal", "scale": {"domain": ["os","od","oc","ps","pd","pc","ts","xs"], "range": [[1,0],[4,2],[6,2,1,2],[1,0],[4,2],[6,2,1,2],[1,0],[1,0]]}, "legend": null}}},
 {"data": {"name": "pts"}, "transform": [{"filter": "datum.p == 'd'"}], "mark": {"type": "point", "filled": false, "color": "#222", "strokeWidth": 0.8, "size": 22},
  "encoding": {"shape": {"field": "m", "type": "nominal", "scale": {"domain": ["o","p","t","x"], "range": ["circle", "M-1,0H1M0,-1V1", "triangle-up", "M-0.8,-0.8L0.8,0.8M-0.8,0.8L0.8,-0.8"]}, "legend": null}}}
]}
]
}
